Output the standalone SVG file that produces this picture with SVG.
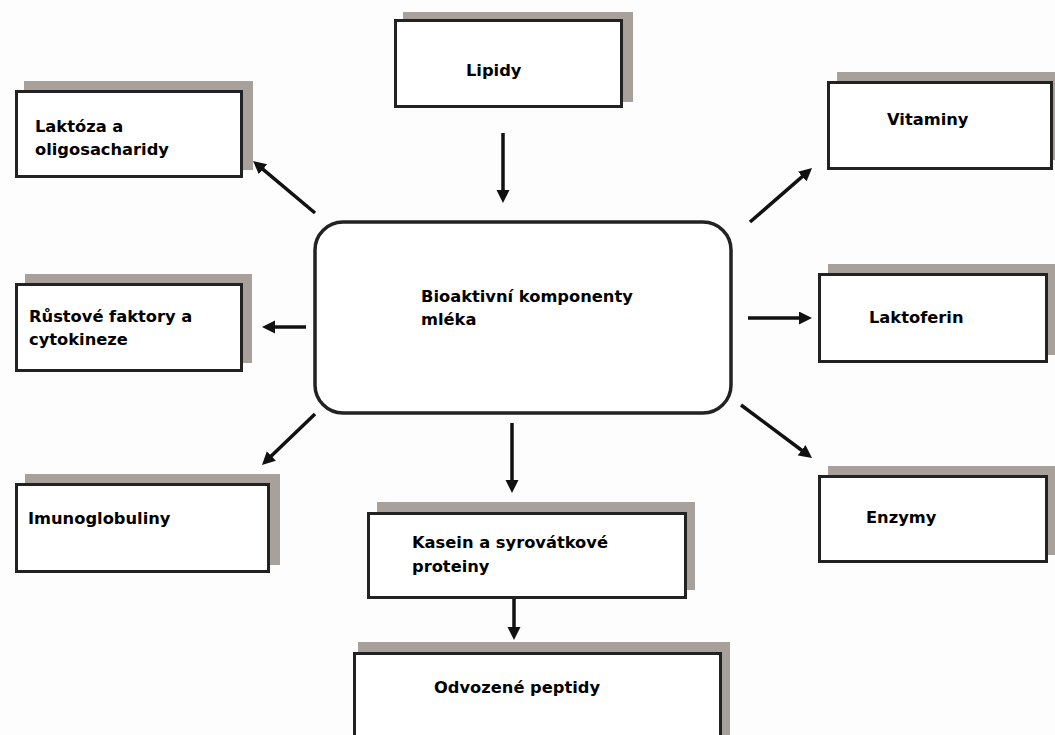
<svg xmlns="http://www.w3.org/2000/svg" width="1055" height="735" viewBox="0 0 1055 735">
<style>
.sh{fill:#a8a09b;stroke:none}
.bx{fill:#ffffff;stroke:#222;stroke-width:3}
.ctr{fill:#ffffff;stroke:#222;stroke-width:3.5}
.t{font-family:"DejaVu Sans",Verdana,sans-serif;font-weight:bold;font-size:16.3px;fill:#000}
.ar{stroke:#111;stroke-width:3.5;fill:none;marker-end:url(#ah)}
</style>
<defs>
<marker id="ah" markerUnits="userSpaceOnUse" markerWidth="14" markerHeight="14" refX="3" refY="6.5" orient="auto">
<path d="M0,0 L13,6.5 L0,13 z" fill="#111"/>
</marker>
</defs>
<rect width="1055" height="735" fill="#fdfdfd"/>
<g id="center">
<rect class="ctr" x="315" y="222" width="416" height="191" rx="28"/>
<text class="t" x="421" y="302">Bioaktivní komponenty</text>
<text class="t" x="421" y="325">mléka</text>
</g>
<g id="lipidy">
<rect class="sh" x="403" y="12" width="230" height="90"/>
<rect class="bx" x="395.5" y="20.5" width="226" height="86"/>
<text class="t" x="466" y="76">Lipidy</text>
</g>
<g id="laktoza">
<rect class="sh" x="24" y="81" width="229" height="89"/>
<rect class="bx" x="16.5" y="91.5" width="225" height="85"/>
<text class="t" x="35" y="132">Laktóza a</text>
<text class="t" x="35" y="155">oligosacharidy</text>
</g>
<g id="vitaminy">
<rect class="sh" x="837" y="72" width="218" height="88"/>
<rect class="bx" x="828.5" y="82.5" width="223" height="86"/>
<text class="t" x="887" y="125">Vitaminy</text>
</g>
<g id="rustove">
<rect class="sh" x="25" y="274" width="227" height="89"/>
<rect class="bx" x="16.5" y="284.5" width="225" height="86"/>
<text class="t" x="29" y="322">Růstové faktory a</text>
<text class="t" x="29" y="345">cytokineze</text>
</g>
<g id="laktoferin">
<rect class="sh" x="828" y="264" width="227" height="91"/>
<rect class="bx" x="819.5" y="274.5" width="227" height="87"/>
<text class="t" x="869" y="323">Laktoferin</text>
</g>
<g id="imuno">
<rect class="sh" x="25" y="474" width="255" height="91"/>
<rect class="bx" x="16.5" y="484.5" width="252" height="87"/>
<text class="t" x="28" y="524">Imunoglobuliny</text>
</g>
<g id="enzymy">
<rect class="sh" x="828" y="466" width="227" height="89"/>
<rect class="bx" x="819.5" y="476.5" width="227" height="85"/>
<text class="t" x="866" y="523">Enzymy</text>
</g>
<g id="kasein">
<rect class="sh" x="377" y="502" width="318" height="88"/>
<rect class="bx" x="368.5" y="513.5" width="317" height="84"/>
<text class="t" x="412" y="548">Kasein a syrovátkové</text>
<text class="t" x="412" y="572">proteiny</text>
</g>
<g id="odvozene">
<rect class="sh" x="358" y="642" width="372" height="100"/>
<rect class="bx" x="354.5" y="653.5" width="366" height="90"/>
<text class="t" x="434" y="693">Odvozené peptidy</text>
</g>
<g id="connectors">
<line class="ar" x1="503" y1="133" x2="503" y2="193"/>
<line class="ar" x1="315" y1="213" x2="260.7" y2="167.4"/>
<line class="ar" x1="750" y1="222" x2="804.5" y2="174.6"/>
<line class="ar" x1="306" y1="327" x2="272" y2="327"/>
<line class="ar" x1="748" y1="318" x2="802" y2="318"/>
<line class="ar" x1="315" y1="414" x2="269.2" y2="458.1"/>
<line class="ar" x1="741" y1="405" x2="804" y2="452"/>
<line class="ar" x1="512" y1="423" x2="512" y2="483"/>
<line class="ar" x1="514" y1="599" x2="514" y2="630"/>
</g>
</svg>
